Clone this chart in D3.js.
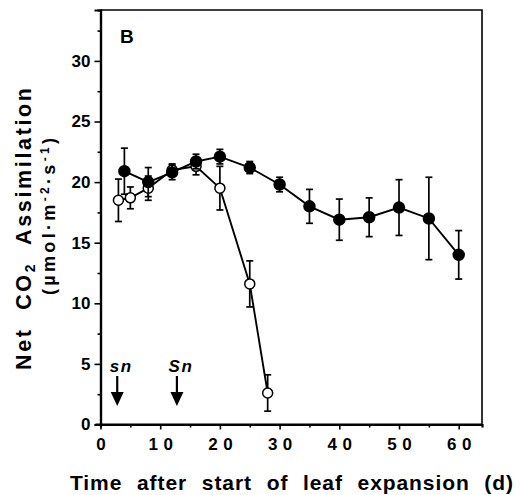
<!DOCTYPE html>
<html><head><meta charset="utf-8">
<script src="https://cdn.jsdelivr.net/npm/d3@7"></script>
<style>
body{margin:0;background:#fff}
svg{display:block}
text{font-family:"Liberation Sans",Arial,Helvetica,sans-serif;font-weight:bold;fill:#000}
</style>
</head><body><svg id="c" width="520" height="495"></svg>
<script>
// Data
const closedDays = [4, 8, 12, 16, 20, 25, 30, 35, 40, 45, 50, 55, 60];
const closedMean = [20.9, 20.0, 20.8, 21.7, 22.1, 21.2, 19.8, 18.0, 16.9, 17.1, 17.9, 17.0, 14.0];
const closedErr  = [1.9, 1.2, 0.6, 0.6, 0.6, 0.5, 0.6, 1.4, 1.7, 1.6, 2.3, 3.4, 2.0];
const openDays = [3, 5, 8, 12, 16, 20, 25, 28];
const openMean = [18.5, 18.7, 19.5, 21.0, 21.3, 19.5, 11.6, 2.6];
const openErr  = [1.75, 0.9, 1.0, 0.5, 0.7, 1.8, 1.9, 1.5];
const xMajor = [0, 10, 20, 30, 40, 50, 60];
const xMinor = [5, 15, 25, 35, 45, 55];
const yMajor = [0, 5, 10, 15, 20, 25, 30];
const yMinor = [2.5, 7.5, 12.5, 17.5, 22.5, 27.5, 32.5];
const arrowDays = [2.8, 12.8];
const arrowLabels = ["sn", "Sn"];
const panelLabel = "B";
const xTitle = "Time after start of leaf expansion (d)";

const svg = d3.select("#c");
const L = 100.5, R = 482, T = 10, B = 424.5;
const x = d3.scaleLinear().domain([0, 63.9]).range([L, R]);
const y = d3.scaleLinear().domain([0, 34.2]).range([B, T]);

// frame
svg.append("path").attr("d", `M${L},${T}H${R}V${B}`).attr("fill","none").attr("stroke","#000").attr("stroke-width",1.6);

// axes
const gx = svg.append("g").attr("transform", `translate(0,${B})`);
gx.call(d3.axisBottom(x).tickValues(xMajor).tickSize(5).tickPadding(8).tickFormat(d3.format("d")));
const gxm = svg.append("g").attr("transform", `translate(0,${B})`);
gxm.call(d3.axisBottom(x).tickValues(xMinor).tickSize(3).tickFormat(""));
const gy = svg.append("g").attr("transform", `translate(${L},0)`);
gy.call(d3.axisLeft(y).tickValues(yMajor).tickSize(6).tickPadding(4).tickFormat(d3.format("d")));
const gym = svg.append("g").attr("transform", `translate(${L},0)`);
gym.call(d3.axisLeft(y).tickValues(yMinor).tickSize(3).tickFormat(""));
[gx, gxm, gy, gym].forEach(g => {
  g.selectAll(".domain").attr("stroke","#000").attr("stroke-width",2.2);
  g.selectAll(".tick line").attr("stroke","#000").attr("stroke-width",1.6);
  g.selectAll("text").attr("font-size",17).attr("font-family",null).attr("font-weight","bold").attr("fill","#000");
});
gx.selectAll("text").attr("letter-spacing", 5.5).attr("dx", 2.75);
gx.select(".domain").attr("d", `M${L-5},0H${R}`);

// series
function drawSeries(days, mean, err, filled) {
  const g = svg.append("g");
  const pts = days.map((d, i) => ({d, m: mean[i], e: err[i]}));
  g.append("path").datum(pts)
    .attr("d", d3.line().x(p => x(p.d)).y(p => y(p.m)))
    .attr("fill","none").attr("stroke","#000").attr("stroke-width",1.9);
  const eb = g.selectAll(".eb").data(pts).join("g");
  eb.append("line").attr("x1", p => x(p.d)).attr("x2", p => x(p.d))
    .attr("y1", p => y(p.m - p.e)).attr("y2", p => y(p.m + p.e))
    .attr("stroke","#000").attr("stroke-width",1.7);
  [1, -1].forEach(s => {
    eb.append("line").attr("x1", p => x(p.d) - 3.5).attr("x2", p => x(p.d) + 3.5)
      .attr("y1", p => y(p.m + s * p.e)).attr("y2", p => y(p.m + s * p.e))
      .attr("stroke","#000").attr("stroke-width",1.7);
  });
  g.selectAll("circle").data(pts).join("circle")
    .attr("cx", p => x(p.d)).attr("cy", p => y(p.m)).attr("r", filled ? 5.5 : 5)
    .attr("fill", filled ? "#000" : "#fff").attr("stroke","#000").attr("stroke-width",1.5);
}
drawSeries(openDays, openMean, openErr, false);
drawSeries(closedDays, closedMean, closedErr, true);

// arrows
arrowDays.forEach((d, i) => {
  const ax = x(d);
  svg.append("line").attr("x1", ax).attr("x2", ax).attr("y1", 376).attr("y2", 395)
    .attr("stroke","#000").attr("stroke-width",2.2);
  svg.append("path").attr("d", `M${ax-6.5},392L${ax+6.5},392L${ax},406Z`).attr("fill","#000");
  svg.append("text").attr("x", ax + 4).attr("y", 372).attr("text-anchor","middle")
    .attr("font-size",17).attr("font-style","italic").attr("letter-spacing",1.5).text(arrowLabels[i]);
});

// panel label
svg.append("text").attr("x", 120).attr("y", 43).attr("font-size", 19).text(panelLabel);

// axis titles
svg.append("text").attr("x", 70).attr("y", 490)
  .attr("font-size", 21).attr("word-spacing", 8).attr("textLength", 443).attr("lengthAdjust", "spacing").text(xTitle);

const yt = svg.append("text").attr("transform", "translate(31,370) rotate(-90)")
  .attr("font-size", 21.5).attr("word-spacing", 9).attr("textLength", 282).attr("lengthAdjust", "spacing");
yt.append("tspan").text("Net CO");
yt.append("tspan").attr("font-size", 14).attr("dy", 4).text("2");
yt.append("tspan").attr("dy", -4).text(" Assimilation");

const yt2 = svg.append("text").attr("transform", "translate(55,295) rotate(-90)")
  .attr("font-size", 18).attr("textLength", 157).attr("lengthAdjust", "spacing");
yt2.append("tspan").text("(\u00b5mol\u00b7m");
yt2.append("tspan").attr("font-size", 12).attr("dy", -6).text("-2");
yt2.append("tspan").attr("dy", 6).text("\u00b7s");
yt2.append("tspan").attr("font-size", 12).attr("dy", -6).text("-1");
yt2.append("tspan").attr("dy", 6).text(")");
</script>
</body></html>
